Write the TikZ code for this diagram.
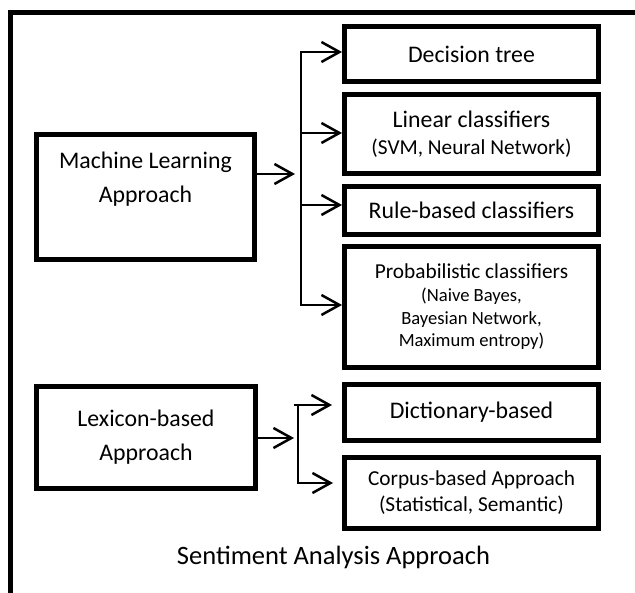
\documentclass[tikz,border=0pt]{standalone}
\usepackage{fontspec}
\setmainfont{Carlito}
\usepackage{tikz}
\usetikzlibrary{arrows.meta}

\newcommand\subtxt{\fontsize{21.3}{27}\selectfont}
\newcommand\smalltxt{\fontsize{18.6}{22.7}\selectfont}

\begin{document}
\begin{tikzpicture}[x=1pt,y=-1pt,
  box/.style={draw, line width=5pt, inner sep=0pt, align=center, font=\fontsize{23.8}{33.7}\selectfont},
  rbox/.style={box, minimum width=254pt},
  conn/.style={line width=2.5pt, line cap=rect},
  arr/.style={line width=2.5pt, -{Straight Barb[length=18pt,width=20pt]}}]
\useasboundingbox (0,0) rectangle (635,593);
\draw[line width=5pt] (10.5,593) |- (635,12.5);

\node[box, minimum width=218pt, minimum height=125pt] (ml) at (145.5,197) {Machine Learning\\Approach\\[6pt]\mbox{}};
\node[box, minimum width=219pt, minimum height=102pt] (lex) at (146,437.5) {Lexicon-based\\Approach};

\node[rbox, minimum height=55pt] (dt) at (471.5,54) {Decision tree};
\node[rbox, minimum height=79pt, font=\fontsize{23.8}{27}\selectfont] (lin) at (471.5,134) {Linear classifiers\\\subtxt(SVM, Neural Network)};
\node[rbox, minimum height=48pt] (rule) at (471.5,210.5) {Rule-based classifiers};
\node[rbox, minimum height=121pt, font=\fontsize{21.3}{22.7}\selectfont] (prob) at (471.5,307) {Probabilistic classifiers\\\smalltxt(Naive Bayes,\\\smalltxt Bayesian Network,\\\smalltxt Maximum entropy)};
\node[rbox, minimum height=56pt] (dict) at (471.5,412.5) {Dictionary-based};
\node[rbox, minimum height=71pt, font=\fontsize{21.3}{26}\selectfont] (corp) at (471.5,493) {Corpus-based Approach\\(Statistical, Semantic)};

\node[font=\fontsize{26.5}{30}\selectfont, anchor=base] (title) at (333.5,565) {Sentiment Analysis Approach};

% machine learning branches
\coordinate (mltip) at (295,174);
\coordinate (mltop) at (301,52);
\coordinate (mlbot) at (301,305);
\draw[arr] (ml.east |- mltip) -- (mltip);
\draw[conn] (mltop) -- (mlbot);
\foreach \b/\y in {dt/52, lin/133, rule/205, prob/305}{
  \coordinate (j\b) at (301,\y);
  \draw[arr] (j\b) -- (\b.west |- j\b);
}

% lexicon branches
\coordinate (lextip) at (294,438);
\coordinate (lextop) at (298,405);
\coordinate (lexbot) at (298,483);
\coordinate (dtip) at (332,405);
\coordinate (ctip) at (333,483);
\draw[arr] (lex.east |- lextip) -- (lextip);
\draw[conn] (lextop) -- (lexbot);
\draw[arr] ([xshift=-4pt]lextop) -- (dtip);
\draw[arr] (lexbot) -- (ctip);
\end{tikzpicture}
\end{document}
